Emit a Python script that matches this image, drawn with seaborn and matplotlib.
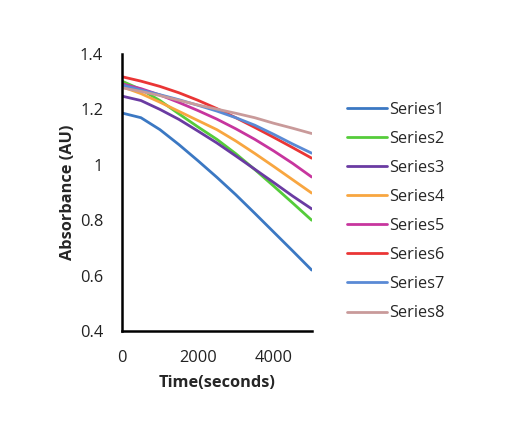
import matplotlib
matplotlib.use("Agg")
import matplotlib.pyplot as plt
import seaborn as sns
import pandas as pd

# time points (seconds) and absorbance
time_s = [0, 500, 1000, 1500, 2000, 2500, 3000, 3500, 4000, 4500, 5000]
series1 = [1.187, 1.170, 1.127, 1.073, 1.015, 0.955, 0.892, 0.825, 0.757, 0.689, 0.620]
series2 = [1.302, 1.272, 1.232, 1.184, 1.137, 1.092, 1.040, 0.983, 0.923, 0.862, 0.800]
series3 = [1.248, 1.232, 1.200, 1.164, 1.122, 1.079, 1.032, 0.984, 0.936, 0.887, 0.841]
series4 = [1.282, 1.257, 1.226, 1.193, 1.160, 1.127, 1.086, 1.041, 0.994, 0.946, 0.898]
series5 = [1.292, 1.275, 1.252, 1.225, 1.196, 1.165, 1.130, 1.092, 1.050, 1.005, 0.956]
series6 = [1.318, 1.302, 1.283, 1.260, 1.233, 1.203, 1.170, 1.135, 1.099, 1.062, 1.024]
series7 = [1.288, 1.270, 1.253, 1.235, 1.215, 1.194, 1.170, 1.143, 1.110, 1.075, 1.042]
series8 = [1.278, 1.265, 1.250, 1.233, 1.216, 1.201, 1.186, 1.170, 1.150, 1.132, 1.113]

names = ["Series1", "Series2", "Series3", "Series4",
         "Series5", "Series6", "Series7", "Series8"]
colors = ["#3B78C3", "#55CC3A", "#6A3BA2", "#F8A640",
          "#C7359E", "#EA3535", "#5A8AD5", "#C99A9A"]
y_ticks = [0.4, 0.6, 0.8, 1.0, 1.2, 1.4]
y_tick_labels = ["0.4", "0.6", "0.8", "1", "1.2", "1.4"]
x_ticks = [0, 2000, 4000]

all_series = [series1, series2, series3, series4,
              series5, series6, series7, series8]
rows = []
for name, vals in zip(names, all_series):
    for t, v in zip(time_s, vals):
        rows.append({"time": t, "absorbance": v, "series": name})
df = pd.DataFrame(rows)

sns.set_style("white")
plt.rcParams["font.family"] = ["Open Sans", "DejaVu Sans"]
fs = 11.8

fig = plt.figure(figsize=(5.16, 4.32), dpi=100)
ax = fig.add_axes([0.2364, 0.2338, 0.3676, 0.6412])

sns.lineplot(data=df, x="time", y="absorbance", hue="series",
             hue_order=names, palette=colors, linewidth=2.0, ax=ax)

ax.set_xlim(0, 5000)
ax.set_ylim(0.4, 1.4)
ax.set_xticks(x_ticks)
ax.set_xticklabels([str(t) for t in x_ticks])
ax.set_yticks(y_ticks)
ax.set_yticklabels(y_tick_labels)
ax.tick_params(axis="both", direction="inout", length=5, width=1.5,
               color="black", labelsize=fs, labelcolor="#222222")
ax.tick_params(axis="y", pad=11)
ax.tick_params(axis="x", pad=11)

for side in ["top", "right"]:
    ax.spines[side].set_visible(False)
for side in ["left", "bottom"]:
    ax.spines[side].set_color("black")
    ax.spines[side].set_linewidth(1.8)

ax.set_xlabel("Time(seconds)", fontsize=fs, fontweight="bold", labelpad=7)
ax.set_ylabel("Absorbance (AU)", fontsize=fs, fontweight="bold", labelpad=3)

handles, labels = ax.get_legend_handles_labels()
ax.legend_.remove()
fig.legend(handles, labels, loc="upper left", bbox_to_anchor=(0.672, 0.765),
           frameon=False, fontsize=fs, handlelength=2.47, handletextpad=0.1,
           labelspacing=0.80, borderpad=0, borderaxespad=0)

fig.savefig("out.png", dpi=100)
